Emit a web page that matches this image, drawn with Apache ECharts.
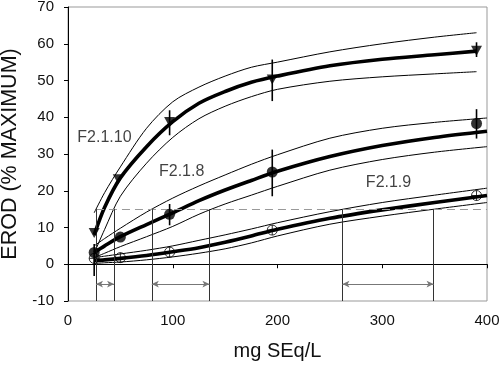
<!DOCTYPE html>
<html><head><meta charset="utf-8">
<script src="https://cdn.jsdelivr.net/npm/echarts@6/dist/echarts.min.js"></script>
<style>html,body{margin:0;padding:0;background:#fff}#c{width:500px;height:366px}</style>
</head><body><div id="c"></div>
<script>
// ---- data ----
const curveX   = [25, 35, 50, 75, 100, 125, 150, 175, 200, 250, 300, 350, 400];
const curveX10 = [25, 35, 50, 75, 100, 125, 150, 175, 200, 250, 300, 350, 390];

const fit10   = [8, 15.5, 23.5, 32, 38.8, 43.8, 47, 49.5, 51.2, 54, 55.8, 57, 58];
const upper10 = [14, 19.5, 26.5, 37, 44.2, 48.2, 51.2, 53.6, 55, 57.8, 60, 61.8, 63];
const lower10 = [3, 9.5, 18.5, 27.5, 34.5, 39.6, 43, 45.6, 47.6, 49.8, 51, 51.8, 52.4];

const fit8   = [3.2, 5, 7.5, 10.8, 14, 17.3, 20.2, 22.8, 25.3, 29.3, 32.3, 34.5, 36.2];
const upper8 = [5, 7, 9.8, 14.2, 18, 21.3, 24.3, 27.2, 29.8, 34.3, 37, 38.6, 39.8];
const lower8 = [1.8, 3, 4.8, 7.5, 10.3, 13.6, 16.4, 18.8, 21.2, 25.6, 28.5, 30.5, 32];

const fit9   = [1, 1.2, 1.6, 2.4, 3.4, 4.5, 6, 7.7, 9.5, 12.5, 14.8, 16.8, 18.7];
const upper9 = [1.8, 2.2, 2.8, 3.8, 5, 6.5, 8, 9.6, 11.3, 14.3, 16.8, 18.8, 20.7];
const lower9 = [0.2, 0.4, 0.6, 1.2, 2, 3, 4.2, 5.8, 7.7, 10.9, 13.1, 15, 16.8];

const dose10 = [25, 48, 97, 195, 390];
const obs10  = [8.5, 23.1, 38.7, 50.3, 58.1];
const dose   = [25, 50, 97, 195, 390];
const obs8   = [3.2, 7.4, 13.6, 25.1, 38.3];
const obs9   = [1.6, 1.8, 3.3, 9.3, 18.7];

const err10Lo = [null, null, 35.1, 44.4, 56.4];
const err10Hi = [null, null, 41.9, 55.7, 60.4];
const err8Lo  = [null, null, 10.6, 18.5, 34.2];
const err8Hi  = [null, null, 16.4, 31.2, 42.2];
const err9Lo  = [-3.2, null, null, null, null];
const err9Hi  = [5.5, null, null, null, null];

const threshold = 15;
const cross10 = [26.7, 44];
const cross8  = [80, 135];
const cross9  = [262, 349];
const arrowY  = -5.4;

const labelNames = ['F2.1.10', 'F2.1.8', 'F2.1.9'];
const labelX = [34.8, 108.5, 306];
const labelY = [34.4, 25.2, 22.2];

const yMin = -10, yMax = 70, yStep = 10;
const xMin = 0, xMax = 400, xStep = 100;

// ---- build ----
const zip = (xs, ys) => xs.map((x, i) => [x, ys[i]]);
const errData = (xs, lo, hi) => xs.map((x, i) => lo[i] == null ? null : [x, lo[i], hi[i]]).filter(Boolean);

const thin = { color: '#000', width: 1 };
const thick = { color: '#000', width: 3.6 };
function curve(xs, ys, style, z) {
  return { type: 'line', data: zip(xs, ys), symbol: 'none', smooth: 0.3,
    lineStyle: style, silent: true, z: z, animation: false };
}
function errSeries(data) {
  return { type: 'custom', data: data, encode: { x: 0, y: [1, 2] }, silent: true, z: 4, animation: false,
    renderItem: function (params, api) {
      const p1 = api.coord([api.value(0), api.value(1)]);
      const p2 = api.coord([api.value(0), api.value(2)]);
      return { type: 'line', shape: { x1: p1[0], y1: p1[1], x2: p2[0], y2: p2[1] },
        style: { stroke: '#000', lineWidth: 1.6 } };
    } };
}
const crossPath = 'path://M10,0A10,10,0,1,1,10,20A10,10,0,1,1,10,0ZM10,0L10,20M0,10L20,10';

const vLines = [...cross10, ...cross8, ...cross9].map(x => [{ coord: [x, yMin] }, { coord: [x, threshold] }]);
const arrows = [cross10, cross8, cross9].map(p => [{ coord: [p[0], arrowY] }, { coord: [p[1], arrowY] }]);

const font = 'Liberation Sans, Arial, sans-serif';
const option = {
  backgroundColor: '#fff',
  animation: false,
  grid: { left: 68, right: 13, top: 7, bottom: 65, show: true, borderColor: '#999', borderWidth: 1,
    containLabel: false, outerBoundsMode: 'none' },
  xAxis: {
    type: 'value', min: xMin, max: xMax, interval: xStep,
    name: 'mg SEq/L', nameLocation: 'middle', nameGap: 40,
    nameTextStyle: { fontFamily: font, fontSize: 20, color: '#111' },
    axisLine: { lineStyle: { color: '#000', width: 1 } },
    axisTick: { show: true, length: 4, lineStyle: { color: '#000' } },
    axisLabel: { fontFamily: font, fontSize: 15, color: '#111', margin: 12 },
    splitLine: { show: false }
  },
  yAxis: {
    type: 'value', min: yMin, max: yMax, interval: yStep,
    name: 'EROD (% MAXIMUM)', nameLocation: 'middle', nameGap: 46,
    nameTextStyle: { fontFamily: font, fontSize: 21.5, color: '#111' },
    axisLine: { show: true, lineStyle: { color: '#000', width: 1 } },
    axisTick: { show: true, length: 4, lineStyle: { color: '#000' } },
    axisLabel: { fontFamily: font, fontSize: 15, color: '#111', margin: 14 },
    splitLine: { show: false }
  },
  series: [
    { type: 'line', data: [], silent: true, z: 1,
      markLine: { silent: true, symbol: 'none', animation: false, label: { show: false },
        lineStyle: { color: '#999', type: [8, 5], width: 1 },
        data: [[{ coord: [cross10[0], threshold] }, { coord: [xMax, threshold] }]] } },
    { type: 'line', data: [], silent: true, z: 1,
      markLine: { silent: true, symbol: 'none', animation: false, label: { show: false },
        lineStyle: { color: '#333', type: 'solid', width: 1 }, data: vLines } },
    { type: 'line', data: [], silent: true, z: 1,
      markLine: { silent: true, symbol: ['arrow', 'arrow'], symbolSize: [5, 7], animation: false,
        label: { show: false }, lineStyle: { color: '#777', type: 'solid', width: 1 }, data: arrows } },

    curve(curveX10, upper10, thin, 2), curve(curveX10, lower10, thin, 2), curve(curveX10, fit10, thick, 3),
    curve(curveX, upper8, thin, 2), curve(curveX, lower8, thin, 2), curve(curveX, fit8, thick, 3),
    curve(curveX, upper9, thin, 2), curve(curveX, lower9, thin, 2), curve(curveX, fit9, thick, 3),

    errSeries(errData(dose10, err10Lo, err10Hi)),
    errSeries(errData(dose, err8Lo, err8Hi)),
    errSeries(errData(dose, err9Lo, err9Hi)),

    { type: 'scatter', data: zip(dose10, obs10), symbol: 'triangle', symbolRotate: 180, symbolSize: [11, 10],
      itemStyle: { color: '#000' }, silent: true, z: 5 },
    { type: 'scatter', data: zip(dose, obs8), symbol: 'circle', symbolSize: 11,
      itemStyle: { color: '#000' }, silent: true, z: 5 },
    { type: 'scatter', data: zip(dose, obs9), symbol: crossPath, symbolSize: 10,
      itemStyle: { color: 'rgba(255,255,255,0)', borderColor: '#000', borderWidth: 1 }, silent: true, z: 5 },

    { type: 'scatter', symbolSize: 0, silent: true, z: 6,
      data: labelNames.map((n, i) => ({ name: n, value: [labelX[i], labelY[i]] })),
      label: { show: true, position: 'inside', formatter: '{b}', fontFamily: font, fontSize: 16, color: '#111' } }
  ]
};
const chart = echarts.init(document.getElementById('c'), null, { renderer: 'canvas' });
chart.setOption(option);
</script></body></html>
